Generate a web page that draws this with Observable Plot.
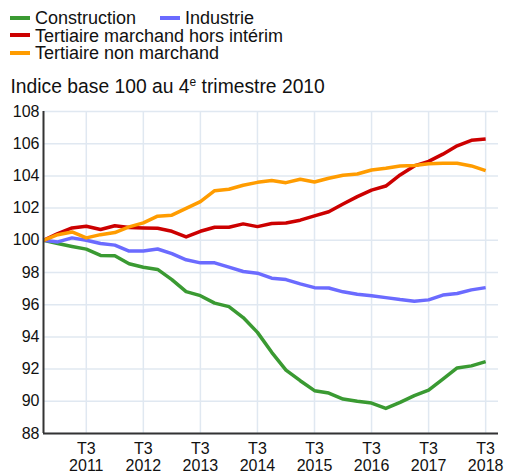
<!DOCTYPE html>
<html>
<head>
<meta charset="utf-8">
<script src="https://cdn.jsdelivr.net/npm/d3@7"></script>
<script src="https://cdn.jsdelivr.net/npm/@observablehq/plot@0.6"></script>
<style>
  html, body { margin: 0; padding: 0; background: #fff; }
  body { position: relative; width: 506px; height: 472px; overflow: hidden; font-family: "Liberation Sans", Arial, sans-serif; color: #111; }
  #legend { position: absolute; left: 10px; top: 10px; font-size: 18px; line-height: 17.5px; }
  .row { display: flex; white-space: nowrap; height: 17.5px; }
  .item { display: inline-flex; align-items: center; margin-right: 24px; }
  .sw { display: inline-block; width: 20px; height: 4px; margin-right: 5px; position: relative; top: -1px; }
  #subtitle { position: absolute; left: 10.5px; top: 75.6px; font-size: 19.3px; line-height: 22px; white-space: nowrap; }
  #subtitle sup { font-size: 12px; vertical-align: 7px; line-height: 0; }
  #chart { position: absolute; left: 0; top: 100px; height: 372px; }
</style>
</head>
<body>
<div id="legend"></div>
<div id="subtitle">Indice base 100 au 4<sup>e</sup> trimestre 2010</div>
<div id="chart"></div>
<script>
const quarters = [
  "T4 2010",
  "T1 2011", "T2 2011", "T3 2011", "T4 2011",
  "T1 2012", "T2 2012", "T3 2012", "T4 2012",
  "T1 2013", "T2 2013", "T3 2013", "T4 2013",
  "T1 2014", "T2 2014", "T3 2014", "T4 2014",
  "T1 2015", "T2 2015", "T3 2015", "T4 2015",
  "T1 2016", "T2 2016", "T3 2016", "T4 2016",
  "T1 2017", "T2 2017", "T3 2017", "T4 2017",
  "T1 2018", "T2 2018", "T3 2018"
];
const tickQuarters = ["T3 2011", "T3 2012", "T3 2013", "T3 2014", "T3 2015", "T3 2016", "T3 2017", "T3 2018"];
const yTicks = [88, 90, 92, 94, 96, 98, 100, 102, 104, 106, 108];

const seriesNames = ["Construction", "Industrie", "Tertiaire marchand hors intérim", "Tertiaire non marchand"];
const seriesColors = ["#3a9a32", "#6b6bff", "#cc0000", "#ff9c00"];

const construction = [100, 99.8, 99.62, 99.45, 99.06, 99.04, 98.54, 98.33, 98.19, 97.56, 96.81, 96.56, 96.1, 95.88, 95.2, 94.28, 93.04, 91.94, 91.28, 90.66, 90.51, 90.14, 90.0, 89.89, 89.56, 89.93, 90.35, 90.7, 91.38, 92.07, 92.2, 92.46];
const industrie = [100, 99.9, 100.15, 100.0, 99.8, 99.7, 99.33, 99.33, 99.46, 99.17, 98.79, 98.6, 98.6, 98.33, 98.06, 97.96, 97.65, 97.56, 97.29, 97.06, 97.04, 96.8, 96.65, 96.56, 96.44, 96.32, 96.22, 96.3, 96.6, 96.7, 96.92, 97.06];
const tertiaireMarchand = [100, 100.42, 100.77, 100.87, 100.67, 100.9, 100.79, 100.77, 100.75, 100.56, 100.21, 100.56, 100.81, 100.81, 101.02, 100.85, 101.04, 101.08, 101.25, 101.52, 101.77, 102.25, 102.71, 103.12, 103.37, 104.06, 104.62, 104.9, 105.35, 105.87, 106.21, 106.29];
const tertiaireNonMarchand = [100, 100.35, 100.52, 100.15, 100.35, 100.48, 100.83, 101.08, 101.5, 101.56, 101.98, 102.4, 103.08, 103.17, 103.42, 103.6, 103.71, 103.58, 103.79, 103.62, 103.85, 104.04, 104.12, 104.37, 104.48, 104.62, 104.65, 104.75, 104.79, 104.79, 104.62, 104.33];

const seriesValues = [construction, industrie, tertiaireMarchand, tertiaireNonMarchand];

// Legend
const legend = document.getElementById("legend");
const rows = [[0, 1], [2], [3]];
rows.forEach(r => {
  const row = document.createElement("div");
  row.className = "row";
  r.forEach(k => {
    const it = document.createElement("span");
    it.className = "item";
    const sw = document.createElement("span");
    sw.className = "sw";
    sw.style.background = seriesColors[k];
    it.appendChild(sw);
    it.appendChild(document.createTextNode(seriesNames[k]));
    row.appendChild(it);
  });
  legend.appendChild(row);
});

const data = [];
seriesNames.forEach((name, k) => {
  seriesValues[k].forEach((v, i) => data.push({serie: name, q: i, v}));
});
const xTicks = tickQuarters.map(q => quarters.indexOf(q));

const grid = "#e0e8f1";
const chart = Plot.plot({
  width: 506,
  height: 372,
  marginTop: 11,
  marginBottom: 39,
  marginLeft: 43,
  marginRight: 8,
  style: {fontSize: "16px", fontFamily: "'Liberation Sans', Arial, sans-serif", color: "#111", background: "#fff", overflow: "visible"},
  x: {type: "linear", domain: [0, 31.9]},
  y: {domain: [88, 108]},
  color: {domain: seriesNames, range: seriesColors},
  marks: [
    Plot.gridY(yTicks, {stroke: grid, strokeOpacity: 1, strokeWidth: 1.5}),
    Plot.gridX(xTicks, {stroke: grid, strokeOpacity: 1, strokeWidth: 1.5}),
    Plot.axisY(yTicks, {tickSize: 0, tickPadding: 4, label: null, fill: "#111"}),
    Plot.axisX(xTicks, {tickSize: 0, tickPadding: 9, label: null, fill: "#111", lineHeight: 1.04,
      tickFormat: i => quarters[i].replace(" ", "\n")}),
    Plot.line(data, {x: "q", y: "v", z: "serie", stroke: "serie", strokeWidth: 3.5, strokeLinejoin: "round", strokeLinecap: "butt"}),
    Plot.ruleX([0], {y1: 88, y2: 108, stroke: "#333", strokeWidth: 2}),
    Plot.ruleY([88], {stroke: "#333", strokeWidth: 2})
  ]
});
document.getElementById("chart").appendChild(chart);
</script>
</body>
</html>
